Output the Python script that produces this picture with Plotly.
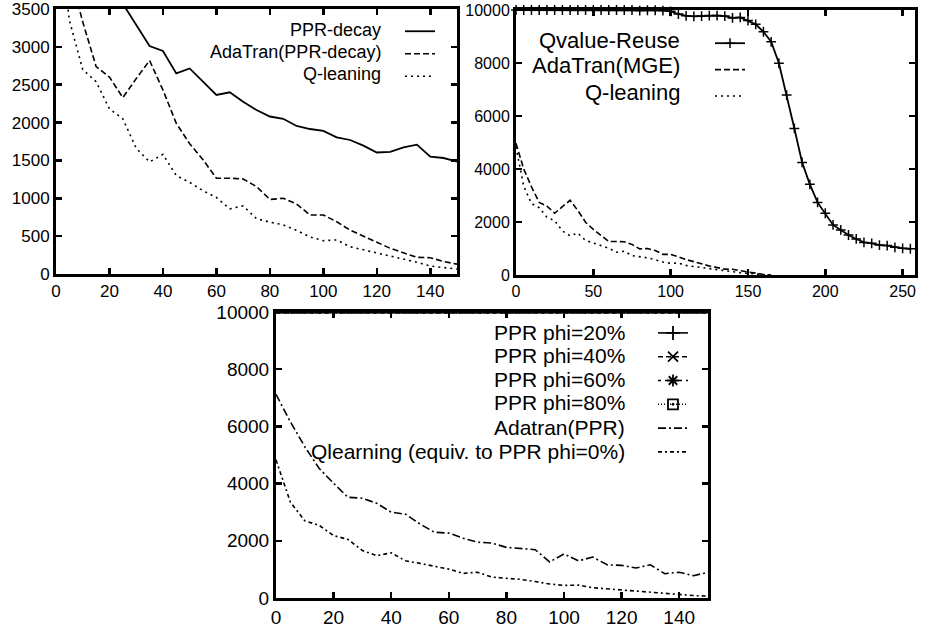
import plotly.graph_objects as go

W, H = 930, 630
FONT = "Liberation Sans, Arial, Helvetica, sans-serif"

# ---------------- data ----------------
episodes = [0, 5, 10, 15, 20, 25, 30, 35, 40, 45, 50, 55, 60, 65, 70, 75,
            80, 85, 90, 95, 100, 105, 110, 115, 120, 125, 130, 135, 140, 145, 150]

ppr_decay = [5600, 5000, 4500, 4100, 3800, 3570, 3290, 3010, 2945, 2650, 2715,
             2540, 2365, 2400, 2275, 2165, 2080, 2050, 1955, 1915, 1890, 1805,
             1770, 1695, 1605, 1612, 1672, 1708, 1550, 1532, 1484]
adatran_decay = [4970, 4000, 3330, 2740, 2600, 2330, 2580, 2820, 2430, 1990, 1720,
                 1510, 1265, 1265, 1255, 1155, 985, 1000, 925, 780, 780, 690,
                 580, 505, 420, 340, 285, 220, 215, 165, 130]
q_learning = [4830, 3350, 2700, 2540, 2180, 2050, 1660, 1480, 1580, 1300, 1210,
              1100, 1010, 860, 900, 730, 685, 650, 575, 490, 440, 450,
              360, 320, 280, 230, 195, 155, 105, 85, 65]

tail_episodes = [155, 160, 165]
adatran_mge_tail = [60, 20, 0]
q_learning_tail = [30, 10, 0]

reuse_episodes = list(range(0, 256, 5))
qvalue_reuse = [10000, 10000, 10000, 10000, 10000, 10000, 10000, 10000, 10000, 10000,
                10000, 10000, 10000, 10000, 10000, 10000, 9980, 9990, 9990, 9980,
                9950, 9850, 9780, 9760, 9770, 9790, 9790, 9770, 9700, 9720,
                9600, 9460, 9180, 8800, 7990, 6790, 5530, 4250, 3420, 2740,
                2330, 1890, 1700, 1510, 1360, 1230, 1195, 1130, 1110, 1045,
                1005, 990]

phi_episodes = [0, 150]
ppr_phi20 = [10000, 10000]
ppr_phi40 = [10000, 10000]
ppr_phi60 = [10000, 10000]
ppr_phi80 = [10000, 10000]
adatran_ppr = [7120, 6160, 5290, 4530, 4010, 3520, 3490, 3310, 3000, 2930, 2590,
               2300, 2270, 2090, 1950, 1920, 1770, 1740, 1690, 1260, 1540, 1300,
               1430, 1160, 1140, 1050, 1160, 850, 900, 780, 900]

tl_labels = ["PPR-decay", "AdaTran(PPR-decay)", "Q-leaning"]
tr_labels = ["Qvalue-Reuse", "AdaTran(MGE)", "Q-leaning"]
b_labels = ["PPR phi=20%", "PPR phi=40%", "PPR phi=60%", "PPR phi=80%",
            "Adatran(PPR)", "Qlearning (equiv. to PPR phi=0%)"]

# ---------------- styles ----------------
BLK = "black"
DASH = "6px,3px"
DOT = "2px,4px"
DASHDOT = "8px,3px,2px,3px"
DASHDOTDOT = "4px,3px,2px,3px"

fig = go.Figure()

# top-left
fig.add_trace(go.Scatter(x=episodes, y=ppr_decay, mode="lines", name="",
                         line=dict(color=BLK, width=1.8), xaxis="x", yaxis="y",
                         legend="legend"))
fig.add_trace(go.Scatter(x=episodes, y=adatran_decay, mode="lines", name="",
                         line=dict(color=BLK, width=1.6, dash=DASH), xaxis="x", yaxis="y",
                         legend="legend"))
fig.add_trace(go.Scatter(x=episodes, y=q_learning, mode="lines", name="",
                         line=dict(color=BLK, width=1.6, dash=DOT), xaxis="x", yaxis="y",
                         legend="legend"))

# top-right
fig.add_trace(go.Scatter(x=reuse_episodes, y=qvalue_reuse, mode="lines+markers", name="",
                         line=dict(color=BLK, width=1.8),
                         marker=dict(symbol="cross-thin-open", size=7,
                                     line=dict(color=BLK, width=1.5)),
                         cliponaxis=False, xaxis="x2", yaxis="y2", legend="legend2"))
fig.add_trace(go.Scatter(x=episodes + tail_episodes, y=adatran_decay + adatran_mge_tail,
                         mode="lines", name="",
                         line=dict(color=BLK, width=1.6, dash=DASH), xaxis="x2", yaxis="y2",
                         legend="legend2"))
fig.add_trace(go.Scatter(x=episodes + tail_episodes, y=q_learning + q_learning_tail,
                         mode="lines", name="",
                         line=dict(color=BLK, width=1.6, dash=DOT), xaxis="x2", yaxis="y2",
                         legend="legend2"))

# bottom: PPR phi series (lying on the top border) + legend entries
phi_styles = [
    (ppr_phi20, None, "cross-thin-open"),
    (ppr_phi40, "5px,3px", "x-thin-open"),
    (ppr_phi60, "3px,4px", "asterisk-open"),
    (ppr_phi80, "1px,2px", "square-open-dot"),
]
for vals, dash, sym in phi_styles:
    fig.add_trace(go.Scatter(x=phi_episodes, y=vals, mode="lines", showlegend=False,
                             line=dict(color=BLK, width=3, dash=dash),
                             xaxis="x3", yaxis="y3"))
for vals, dash, sym in phi_styles:
    fig.add_trace(go.Scatter(x=[None], y=[None], mode="lines+markers", name="",
                             line=dict(color=BLK, width=1.6, dash=dash),
                             marker=dict(symbol=sym, size=10,
                                         line=dict(color=BLK, width=1.8)),
                             xaxis="x3", yaxis="y3", legend="legend3"))
fig.add_trace(go.Scatter(x=episodes, y=adatran_ppr, mode="lines", name="",
                         line=dict(color=BLK, width=1.6, dash=DASHDOT), xaxis="x3", yaxis="y3",
                         legend="legend3"))
fig.add_trace(go.Scatter(x=episodes, y=q_learning, mode="lines", name="",
                         line=dict(color=BLK, width=1.6, dash=DASHDOTDOT), xaxis="x3", yaxis="y3",
                         legend="legend3"))


def px_x(p):
    return p / W


def px_y(p):
    return 1 - p / H


def axis(domain, rng, dtick, anchor, size):
    return dict(domain=domain, range=rng, dtick=dtick, tick0=0, anchor=anchor,
                automargin=False, tickformat="d", ticklabeloverflow="allow",
                showgrid=False, zeroline=False, showline=True, linecolor=BLK,
                linewidth=3, mirror="ticks", ticks="inside", ticklen=6, tickwidth=2.5,
                tickcolor=BLK, tickfont=dict(family=FONT, size=size, color=BLK))


layout = dict(
    width=W, height=H, margin=dict(l=0, r=0, t=0, b=0, autoexpand=False),
    paper_bgcolor="white", plot_bgcolor="white",
    font=dict(family=FONT, color=BLK),
    xaxis=axis([px_x(56), px_x(457)], [0, 150], 20, "y", 17),
    yaxis=axis([px_y(274), px_y(9)], [0, 3500], 500, "x", 17),
    xaxis2=axis([px_x(516), px_x(915)], [0, 258], 50, "y2", 16),
    yaxis2=axis([px_y(275), px_y(10)], [0, 10000], 2000, "x2", 16),
    xaxis3=axis([px_x(276), px_x(708)], [0, 150], 20, "y3", 19),
    yaxis3=axis([px_y(598), px_y(312)], [0, 10000], 2000, "x3", 19),
)


def legend_cfg(left, top, fsize):
    return dict(x=px_x(left), y=px_y(top), xanchor="left", yanchor="top",
                bgcolor="rgba(0,0,0,0)", borderwidth=0, font=dict(size=fsize),
                itemclick=False, itemdoubleclick=False, tracegroupgap=0)


layout["legend"] = legend_cfg(400, 15, 15)
layout["legend2"] = legend_cfg(710, 25, 18)
layout["legend3"] = legend_cfg(653, 316, 16)

annotations = []


def add_labels(labels, right, ys, size):
    for lab, yy in zip(labels, ys):
        annotations.append(dict(text=lab, x=px_x(right), y=px_y(yy), xref="paper",
                                yref="paper", xanchor="right", yanchor="middle",
                                showarrow=False, font=dict(family=FONT, size=size, color=BLK)))


add_labels(tl_labels, 383, [30, 52, 74], 18)
add_labels(tr_labels, 682, [40, 66, 92], 22)
add_labels(b_labels, 627, [332, 355, 379, 403, 427, 451], 21)
layout["annotations"] = annotations
fig.update_layout(**layout)

# remove the default 8px page margin so the 930x630 figure fills the window
fig.write_html("out.html",
               config={"displayModeBar": False, "staticPlot": True},
               post_script="document.body.style.margin='0px';"
                           "document.body.style.overflow='hidden';")
